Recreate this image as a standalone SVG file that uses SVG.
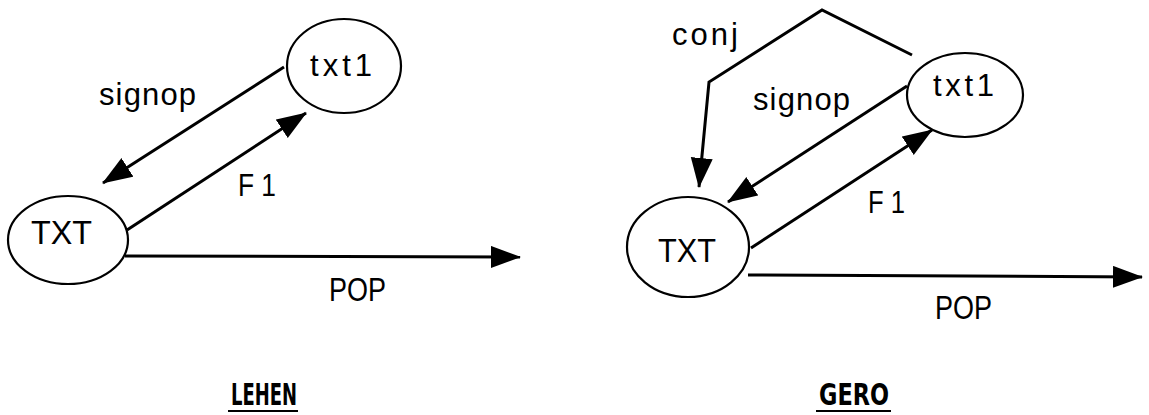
<svg xmlns="http://www.w3.org/2000/svg" width="1149" height="415" viewBox="0 0 1149 415">
  <defs>
    <marker id="head" markerUnits="userSpaceOnUse" markerWidth="30" markerHeight="24" refX="29" refY="11" orient="auto">
      <path d="M0,0 L30,11 L0,22 z" fill="#000"/>
    </marker>
    <style>
      .node ellipse { fill: #fff; stroke: #000; stroke-width: 2.2; }
      .lbl { font-family: "Liberation Sans", Arial, sans-serif; font-size: 31px; fill: #000; }
      .big { font-size: 33px; }
      .cap { font-family: "DejaVu Sans Condensed", "DejaVu Sans", sans-serif; font-weight: bold; font-size: 30px; fill: #000; }
      .edge { fill: none; stroke: #000; stroke-width: 3; marker-end: url(#head); }
      .rule { stroke: #000; stroke-width: 2.2; }
    </style>
  </defs>

  <!-- connectors -->
  <g id="connectors">
    <!-- left: LEHEN -->
    <line class="edge" x1="284" y1="67" x2="103" y2="183"/>
    <line class="edge" x1="127" y1="230" x2="306" y2="113"/>
    <line class="edge" x1="125" y1="256" x2="520" y2="257"/>
    <!-- right: GERO -->
    <polyline class="edge" points="912,55 822,10 709,82 699,187"/>
    <line class="edge" x1="907" y1="86" x2="728" y2="202"/>
    <line class="edge" x1="751" y1="248" x2="932" y2="130"/>
    <line class="edge" x1="748" y1="275" x2="1142" y2="277"/>
  </g>

  <!-- edge labels -->
  <g id="edge-labels">
    <text class="lbl" x="99" y="105" textLength="97" lengthAdjust="spacing">signop</text>
    <text class="lbl" x="238" y="196" textLength="38" lengthAdjust="spacingAndGlyphs">F 1</text>
    <text class="lbl big" x="329" y="301" textLength="57" lengthAdjust="spacingAndGlyphs">POP</text>
    <text class="lbl" x="672" y="45" textLength="66" lengthAdjust="spacing">conj</text>
    <text class="lbl" x="753" y="110" textLength="97" lengthAdjust="spacing">signop</text>
    <text class="lbl" x="868" y="213" textLength="37" lengthAdjust="spacingAndGlyphs">F 1</text>
    <text class="lbl big" x="935" y="319" textLength="57" lengthAdjust="spacingAndGlyphs">POP</text>
  </g>

  <!-- nodes -->
  <g id="lehen-TXT" class="node">
    <ellipse cx="68" cy="240" rx="60" ry="44"/>
    <text class="lbl big" x="31" y="244" textLength="61" lengthAdjust="spacingAndGlyphs">TXT</text>
  </g>
  <g id="lehen-txt1" class="node">
    <ellipse cx="344" cy="66" rx="57" ry="47"/>
    <text class="lbl" x="310" y="76" textLength="62" lengthAdjust="spacing">txt1</text>
  </g>
  <g id="gero-TXT" class="node">
    <ellipse cx="688" cy="247" rx="61" ry="50"/>
    <text class="lbl big" x="658" y="262" textLength="58" lengthAdjust="spacingAndGlyphs">TXT</text>
  </g>
  <g id="gero-txt1" class="node">
    <ellipse cx="965" cy="95" rx="58" ry="42"/>
    <text class="lbl" x="933" y="96" textLength="61" lengthAdjust="spacing">txt1</text>
  </g>

  <!-- captions -->
  <g id="captions">
    <text class="cap" x="231" y="405" textLength="66" lengthAdjust="spacingAndGlyphs">LEHEN</text>
    <line class="rule" x1="228" y1="411" x2="298" y2="411"/>
    <text class="cap" x="819" y="405" textLength="70" lengthAdjust="spacingAndGlyphs">GERO</text>
    <line class="rule" x1="816" y1="411" x2="891" y2="411"/>
  </g>
</svg>
